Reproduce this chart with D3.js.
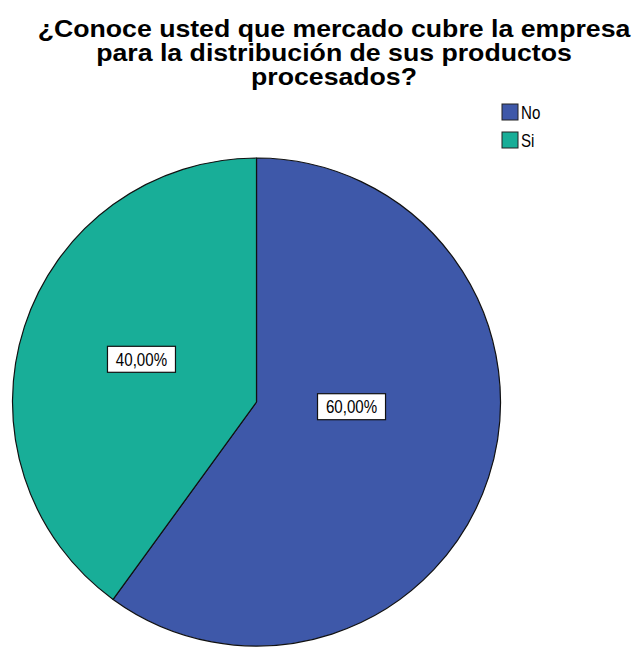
<!DOCTYPE html>
<html>
<head>
<meta charset="utf-8">
<script src="https://cdn.jsdelivr.net/npm/d3@7"></script>
<style>
  html, body { margin: 0; padding: 0; background: #fff; }
  svg { display: block; }
</style>
</head>
<body>
<svg id="chart" width="634" height="651"></svg>
<script>
// Survey answers and their shares (percent)
const categories = ["No", "Si"];
const percentages = [60, 40];
const sliceColors = ["#3e58a9", "#18ae98"];
const titleLines = [
  "¿Conoce usted que mercado cubre la empresa",
  "para la distribución de sus productos",
  "procesados?"
];

const W = 634, H = 651;
const cx = 256.5, cy = 402, radius = 244;
const sansFont = "'Liberation Sans', Arial, sans-serif";

const svg = d3.select("#chart");

// Title, three centred bold lines in a condensed face
const titleX = 334;
const titleBaselines = [37, 61, 85];
const title = svg.append("g").attr("font-family", sansFont)
  .attr("font-weight", "bold").attr("fill", "#000");
const tl = title.selectAll("text").data(titleLines).join("text")
  .attr("x", 0).attr("y", 0)
  .attr("text-anchor", "middle").attr("font-size", 23.5).text(d => d);
// narrow the glyphs so the first line spans the available width
const firstLen = tl.nodes()[0].getComputedTextLength();
const squeeze = 593 / firstLen;
tl.attr("transform", (d, i) => `translate(${titleX},${titleBaselines[i]}) scale(${squeeze},1)`);

// Pie: "Si" runs counter-clockwise from 12 o'clock, "No" clockwise
const data = categories.map((c, i) => ({ cat: c, value: percentages[i], color: sliceColors[i] }));
const pie = d3.pie().value(d => d.value).sort(null).startAngle(0).endAngle(2 * Math.PI);
const arcs = pie(data);
const arc = d3.arc().innerRadius(0).outerRadius(radius);

const g = svg.append("g").attr("transform", `translate(${cx},${cy})`);
g.selectAll("path.slice").data(arcs).join("path")
  .attr("class", "slice")
  .attr("d", arc)
  .attr("fill", d => d.data.color)
  .attr("stroke", "#111")
  .attr("stroke-width", 1.2)
  .attr("stroke-linejoin", "round");

// Percentage labels in white boxes
const labelNudge = { No: [-21, -33], Si: [1, -5] };
const fmt = v => d3.format(".2f")(v).replace(".", ",") + "%";
const labels = g.selectAll("g.lbl").data(arcs).join("g").attr("class", "lbl")
  .attr("transform", d => {
    const c = arc.centroid(d);
    const n = labelNudge[d.data.cat];
    return `translate(${c[0] + n[0]},${c[1] + n[1]})`;
  });
labels.append("rect")
  .attr("x", -34).attr("y", -13).attr("width", 68).attr("height", 26)
  .attr("fill", "#fff").attr("stroke", "#111").attr("stroke-width", 1.2);
labels.append("text")
  .attr("text-anchor", "middle").attr("dy", "0.36em")
  .attr("transform", "scale(0.84,1)")
  .attr("font-family", sansFont).attr("font-size", 18)
  .attr("fill", "#000")
  .text(d => fmt(d.data.value));

// Legend
const legend = svg.append("g").attr("transform", "translate(502,104)");
const items = legend.selectAll("g").data(data).join("g")
  .attr("transform", (d, i) => `translate(0,${i * 28})`);
items.append("rect").attr("width", 16).attr("height", 16)
  .attr("fill", d => d.color).attr("stroke", "#222").attr("stroke-width", 1);
items.append("text")
  .attr("transform", "translate(19,9) scale(0.84,1)")
  .attr("dy", "0.36em")
  .attr("font-family", sansFont).attr("font-size", 18).attr("fill", "#000")
  .text(d => d.cat);
</script>
</body>
</html>
